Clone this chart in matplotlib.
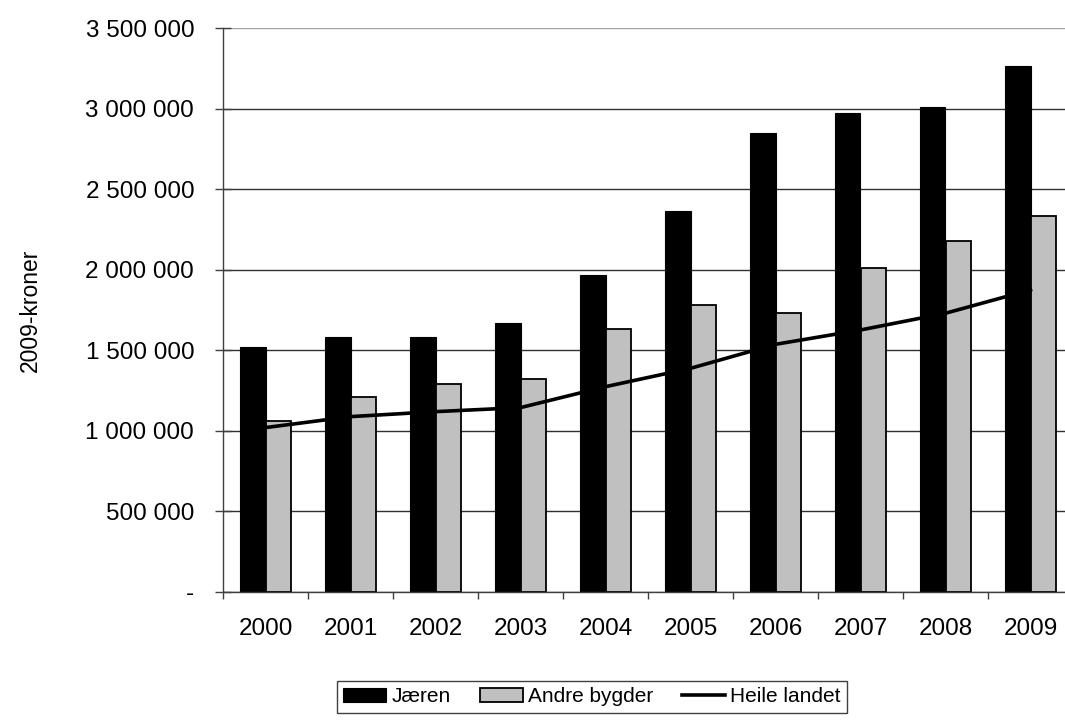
import numpy as np
import matplotlib
matplotlib.use('Agg')
import matplotlib.pyplot as plt
from matplotlib.ticker import FixedLocator

plt.rcParams['font.family'] = ['Liberation Sans', 'DejaVu Sans']

# data
years = ['2000', '2001', '2002', '2003', '2004', '2005', '2006', '2007', '2008', '2009']
jaeren = [1518000, 1580000, 1580000, 1667000, 1967000, 2364000, 2851000, 2975000, 3012000, 3261000]
andre = [1060000, 1207000, 1292000, 1319000, 1630000, 1781000, 1729000, 2012000, 2178000, 2334000]
heile = [1019000, 1087000, 1118000, 1143000, 1273000, 1387000, 1536000, 1625000, 1729000, 1874000]
yticks = [0, 500000, 1000000, 1500000, 2000000, 2500000, 3000000, 3500000]
ytick_labels = ['-', '500 000', '1 000 000', '1 500 000', '2 000 000', '2 500 000', '3 000 000', '3 500 000']

fig = plt.figure(figsize=(10.65, 7.22), dpi=100)
# axes run past the right edge, like in the cropped original
ax = fig.add_axes([223/1065, 1-591.7/722, 850/1065, (591.7-28)/722])

x = np.arange(len(years))
w = 0.3
b1 = ax.bar(x - w/2, jaeren, w, color='black', edgecolor='black', linewidth=0.8, label='Jæren', zorder=2)
b2 = ax.bar(x + w/2, andre, w, color='#c0c0c0', edgecolor='black', linewidth=1.3, label='Andre bygder', zorder=2)
l1, = ax.plot(x, heile, color='black', linewidth=2.6, label='Heile landet', zorder=3)

ax.set_xlim(-0.5, len(years) - 0.5)
ax.set_ylim(0, 3500000)
ax.set_yticks(yticks)
ax.set_yticklabels(ytick_labels)
ax.set_xticks(x)
ax.set_xticklabels(years)
ax.xaxis.set_minor_locator(FixedLocator(np.arange(-0.5, len(years), 1)))

ax.tick_params(axis='y', direction='inout', length=11.5, width=1, color='#404040', labelsize=17.5, pad=15)
ax.tick_params(axis='x', which='major', length=0, labelsize=17.5, pad=19)
ax.tick_params(axis='x', which='minor', direction='out', length=5, width=1, color='#404040')

ax.grid(axis='y', color='#303030', linewidth=1, zorder=0)
ax.set_axisbelow(True)
ax.yaxis.get_gridlines()[-1].set_color('#a0a0a0')

for s in ['top', 'right']:
    ax.spines[s].set_visible(False)
for s in ['left', 'bottom']:
    ax.spines[s].set_color('#404040')
    ax.spines[s].set_linewidth(1)

fig.text(30/1065, 1-310/722, '2009-kroner', rotation=90, ha='center', va='center', fontsize=16.5)

leg = fig.legend([b1, b2, l1], ['Jæren', 'Andre bygder', 'Heile landet'],
                 loc='upper center', bbox_to_anchor=(592/1065, 1-681/722), ncol=3, fontsize=15,
                 frameon=True, fancybox=False, edgecolor='#404040', framealpha=1,
                 handlelength=2.05, handleheight=0.68, handletextpad=0.25, columnspacing=1.4,
                 borderpad=0.3, borderaxespad=0)
leg.get_frame().set_linewidth(1)

fig.savefig('out.png', dpi=100)
